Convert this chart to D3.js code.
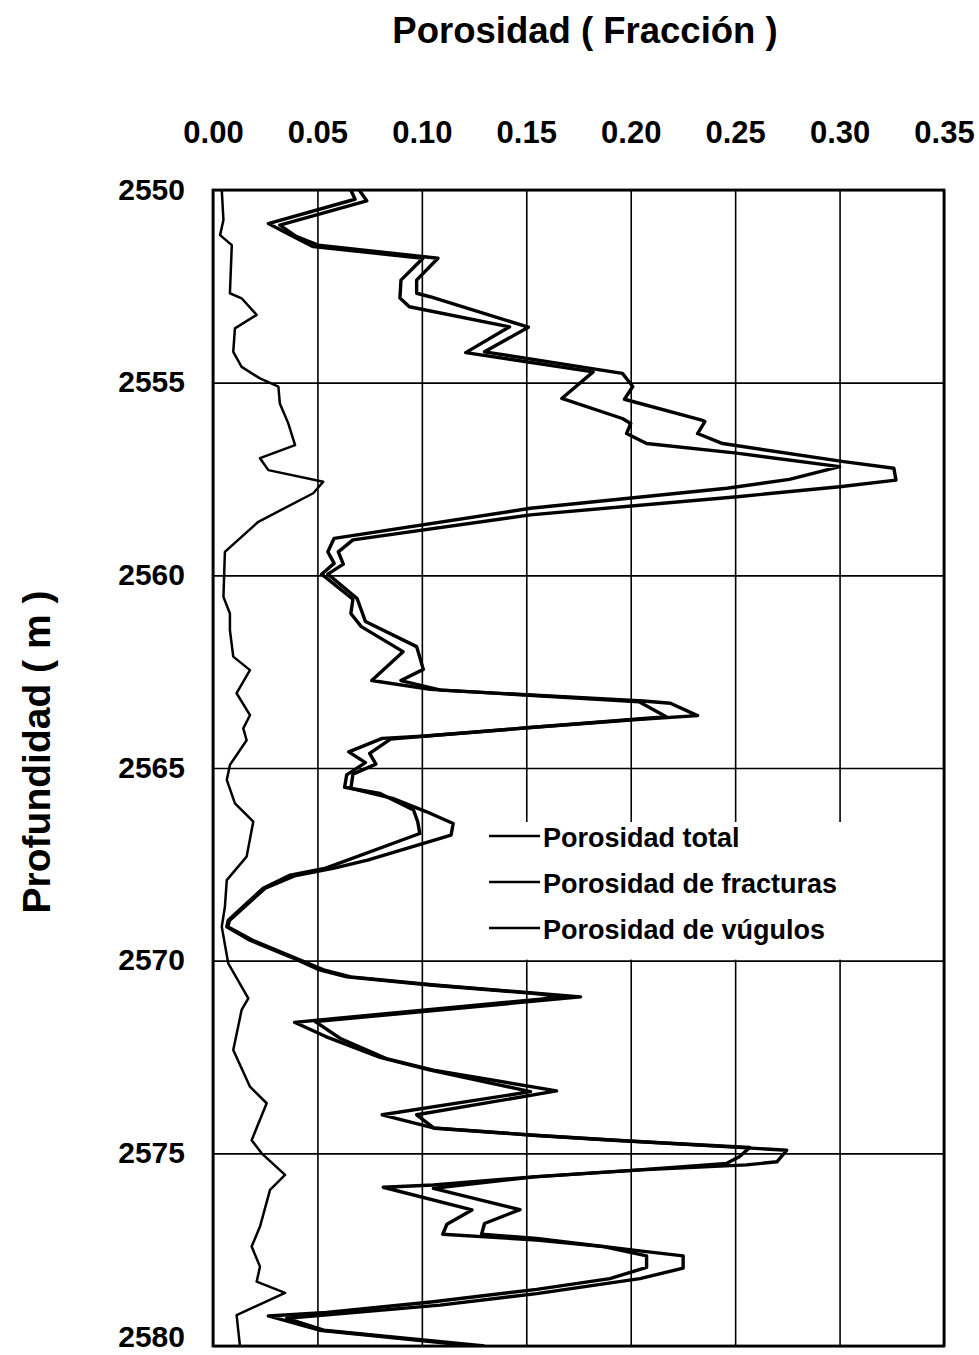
<!DOCTYPE html>
<html>
<head>
<meta charset="utf-8">
<script src="https://cdn.jsdelivr.net/npm/d3@7/dist/d3.min.js"></script>
<style>
  html, body { margin: 0; padding: 0; background: #fff; }
  svg { display: block; }
  text { font-family: "Liberation Sans", Arial, sans-serif; font-weight: bold; fill: #000; }
</style>
</head>
<body>
<svg id="chart" width="979" height="1355"></svg>
<script>
// Axis ticks
const xTicks = [0, 0.05, 0.10, 0.15, 0.20, 0.25, 0.30, 0.35];
const yTicks = [2550, 2555, 2560, 2565, 2570, 2575, 2580];

// Porosidad total: profundidad (m) y valor (fracción)
const totalDepth = [2550.0, 2550.28, 2550.91, 2551.21, 2551.43, 2551.77, 2552.34, 2552.68, 2552.77, 2553.56,
  2554.2, 2554.76, 2555.1, 2555.43, 2555.97, 2556.01, 2556.32, 2556.58, 2557.05, 2557.22,
  2557.53, 2557.7, 2557.96, 2558.43, 2559.08, 2559.39, 2559.71, 2559.97, 2560.6, 2561.2,
  2561.85, 2562.44, 2562.73, 2562.98, 2563.26, 2563.32, 2563.64, 2563.74, 2563.95, 2564.17,
  2564.25, 2564.62, 2564.9, 2565.16, 2565.53, 2565.79, 2566.13, 2566.44, 2566.74, 2567.39,
  2567.6, 2567.8, 2568.12, 2568.95, 2569.12, 2569.47, 2569.9, 2570.24, 2570.42, 2570.63,
  2570.85, 2570.94, 2571.58, 2572.02, 2572.54, 2572.84, 2573.38, 2574.0, 2574.35, 2574.53,
  2574.66, 2574.92, 2575.22, 2575.3, 2575.43, 2575.61, 2575.91, 2576.46, 2576.82, 2577.1,
  2577.21, 2577.53, 2577.66, 2577.98, 2578.25, 2578.64, 2578.94, 2579.28, 2579.59, 2580.0];
const totalValue = [0.070, 0.0736, 0.032, 0.040, 0.0504, 0.1077, 0.0975, 0.0975, 0.1039, 0.151,
  0.130, 0.196, 0.201, 0.197, 0.234, 0.2355, 0.232, 0.244, 0.302, 0.326,
  0.327, 0.300, 0.251, 0.152, 0.067, 0.060, 0.0624, 0.055, 0.069, 0.073,
  0.0975, 0.1007, 0.090, 0.109, 0.206, 0.219, 0.232, 0.203, 0.152, 0.102,
  0.085, 0.075, 0.078, 0.067, 0.066, 0.086, 0.102, 0.115, 0.114, 0.074,
  0.058, 0.039, 0.025, 0.008, 0.007, 0.019, 0.038, 0.053, 0.066, 0.106,
  0.156, 0.176, 0.049, 0.061, 0.083, 0.1055, 0.1645, 0.0975, 0.106, 0.154,
  0.193, 0.2747, 0.270, 0.2555, 0.205, 0.154, 0.1055, 0.147, 0.130, 0.1286,
  0.155, 0.2044, 0.2251, 0.2251, 0.2044, 0.155, 0.1087, 0.0353, 0.053, 0.130];

// Porosidad de fracturas
const fracDepth = [2550.0, 2550.24, 2550.87, 2551.17, 2551.47, 2551.77, 2552.34, 2552.8, 2553.03, 2553.55,
  2554.22, 2554.72, 2555.41, 2555.93, 2556.06, 2556.32, 2556.58, 2556.83, 2557.18, 2557.51,
  2557.74, 2558.26, 2559.04, 2559.39, 2559.69, 2559.97, 2560.62, 2560.99, 2561.33, 2561.98,
  2562.73, 2562.96, 2563.28, 2563.67, 2563.95, 2564.17, 2564.23, 2564.58, 2564.86, 2565.18,
  2565.5, 2565.66, 2566.09, 2566.39, 2566.7, 2567.6, 2567.78, 2568.12, 2568.95, 2569.12,
  2569.47, 2569.9, 2570.24, 2570.42, 2570.63, 2570.85, 2570.94, 2571.6, 2571.97, 2572.51,
  2572.84, 2573.4, 2574.0, 2574.34, 2574.53, 2574.66, 2574.85, 2575.09, 2575.26, 2575.43,
  2575.61, 2575.82, 2575.88, 2576.47, 2576.84, 2577.1, 2577.25, 2577.42, 2577.66, 2577.96,
  2578.25, 2578.53, 2578.85, 2579.13, 2579.22, 2579.59, 2580.0];
const fracValue = [0.066, 0.068, 0.0265, 0.037, 0.048, 0.1005, 0.090, 0.0895, 0.094, 0.142,
  0.121, 0.182, 0.167, 0.196, 0.200, 0.198, 0.2076, 0.2507, 0.300, 0.276,
  0.246, 0.152, 0.058, 0.055, 0.058, 0.052, 0.067, 0.066, 0.071, 0.091,
  0.076, 0.104, 0.204, 0.217, 0.152, 0.102, 0.081, 0.065, 0.073, 0.064,
  0.063, 0.080, 0.096, 0.098, 0.099, 0.054, 0.037, 0.024, 0.0073, 0.0066,
  0.0177, 0.037, 0.051, 0.064, 0.104, 0.153, 0.168, 0.039, 0.054, 0.080,
  0.104, 0.152, 0.081, 0.1055, 0.153, 0.1915, 0.257, 0.252, 0.246, 0.204,
  0.153, 0.1055, 0.0815, 0.124, 0.112, 0.110, 0.155, 0.187, 0.2076, 0.2076,
  0.190, 0.155, 0.1055, 0.0544, 0.0265, 0.051, 0.125];

// Porosidad de vúgulos
const vugDepth = [2550.0, 2550.78, 2551.17, 2551.43, 2552.68, 2552.81, 2553.24, 2553.59, 2554.2, 2554.59,
  2554.89, 2555.1, 2555.54, 2556.05, 2556.62, 2556.96, 2557.27, 2557.57, 2557.87, 2558.61,
  2559.39, 2560.56, 2560.99, 2561.42, 2562.11, 2562.46, 2563.06, 2563.63, 2563.97, 2564.28,
  2564.92, 2565.31, 2565.92, 2566.39, 2567.3, 2567.91, 2568.6, 2569.12, 2570.07, 2570.98,
  2571.28, 2572.32, 2573.27, 2573.7, 2574.66, 2575.0, 2575.56, 2575.95, 2576.9, 2577.42,
  2577.94, 2578.33, 2578.62, 2579.2, 2580.0];
const vugValue = [0.0042, 0.005, 0.0034, 0.009, 0.0081, 0.0137, 0.0209, 0.0105, 0.0097, 0.0137,
  0.0225, 0.0313, 0.032, 0.036, 0.0393, 0.0225, 0.0265, 0.0528, 0.048, 0.0217,
  0.0057, 0.005, 0.0081, 0.0081, 0.0097, 0.0177, 0.0113, 0.0177, 0.0145, 0.0161,
  0.0081, 0.0066, 0.0105, 0.0193, 0.0161, 0.0066, 0.0057, 0.0042, 0.0073, 0.0169,
  0.0137, 0.0097, 0.0177, 0.0257, 0.0185, 0.0233, 0.0345, 0.0273, 0.0225, 0.0185,
  0.0225, 0.0209, 0.0345, 0.0113, 0.0129];

const legendLabels = ["Porosidad total", "Porosidad de fracturas", "Porosidad de vúgulos"];

const svg = d3.select("#chart");
const plotLeft = 213, plotRight = 944, plotTop = 190, plotBottom = 1346;

const x = d3.scaleLinear().domain([0, 0.35]).range([plotLeft, plotRight]);
const y = d3.scaleLinear().domain([2550, 2580]).range([plotTop, plotBottom]);

// Grid lines
svg.append("g")
  .attr("transform", `translate(0,${plotTop})`)
  .call(d3.axisTop(x).tickValues(xTicks).tickSize(-(plotBottom - plotTop)).tickFormat(""))
  .call(g => g.select(".domain").remove())
  .call(g => g.selectAll("line").attr("stroke", "#000").attr("stroke-width", 1.6));

svg.append("g")
  .attr("transform", `translate(${plotLeft},0)`)
  .call(d3.axisLeft(y).tickValues(yTicks).tickSize(-(plotRight - plotLeft)).tickFormat(""))
  .call(g => g.select(".domain").remove())
  .call(g => g.selectAll("line").attr("stroke", "#000").attr("stroke-width", 1.6));

// Legend background hides the grid behind it
svg.append("rect")
  .attr("x", 470).attr("y", 822)
  .attr("width", plotRight - 470 - 2).attr("height", y(2570) - 822 - 1)
  .attr("fill", "#fff");

// Tick labels
svg.append("g")
  .attr("transform", `translate(0,${plotTop})`)
  .call(d3.axisTop(x).tickValues(xTicks).tickSize(0).tickPadding(47).tickFormat(d3.format(".2f")))
  .call(g => g.select(".domain").remove())
  .call(g => g.selectAll("text")
    .style("font-family", '"Liberation Sans", Arial, sans-serif')
    .style("font-weight", "bold").style("font-size", "31px").attr("fill", "#000"));

svg.append("g")
  .attr("transform", `translate(${plotLeft},0)`)
  .call(d3.axisLeft(y).tickValues(yTicks).tickSize(0).tickPadding(28).tickFormat(d3.format("d")))
  .call(g => g.select(".domain").remove())
  .call(g => g.selectAll("text")
    .style("font-family", '"Liberation Sans", Arial, sans-serif')
    .style("font-weight", "bold").style("font-size", "30px").attr("fill", "#000")
    .attr("dy", d => d === 2580 ? "0em" : "0.3em"));

// Plot frame
svg.append("rect")
  .attr("x", plotLeft).attr("y", plotTop)
  .attr("width", plotRight - plotLeft).attr("height", plotBottom - plotTop)
  .attr("fill", "none").attr("stroke", "#000").attr("stroke-width", 2.8);

// Curves
const line = d3.line().x(d => x(d[1])).y(d => y(d[0]));
svg.append("clipPath").attr("id", "plot")
  .append("rect").attr("x", plotLeft).attr("y", plotTop)
  .attr("width", plotRight - plotLeft).attr("height", plotBottom - plotTop);

const curves = [
  { depth: totalDepth, value: totalValue, width: 3.4 },
  { depth: fracDepth, value: fracValue, width: 3.4 },
  { depth: vugDepth, value: vugValue, width: 2.5 }
];
curves.forEach(c => {
  svg.append("path")
    .datum(d3.zip(c.depth, c.value))
    .attr("clip-path", "url(#plot)")
    .attr("d", line)
    .attr("fill", "none")
    .attr("stroke", "#000")
    .attr("stroke-width", c.width)
    .attr("stroke-linejoin", "round");
});

// Legend
const legend = svg.append("g");
legendLabels.forEach((label, i) => {
  const ly = 847 + i * 46;
  legend.append("line")
    .attr("x1", 489).attr("x2", 540)
    .attr("y1", ly - 11).attr("y2", ly - 11)
    .attr("stroke", "#000").attr("stroke-width", 2.6);
  legend.append("text")
    .attr("x", 543).attr("y", ly)
    .style("font-size", "27px")
    .text(label);
});

// Titles
svg.append("text")
  .attr("x", 585).attr("y", 43)
  .attr("text-anchor", "middle")
  .style("font-size", "36.5px")
  .text("Porosidad ( Fracción )");

svg.append("text")
  .attr("transform", "translate(50,752) rotate(-90)")
  .attr("text-anchor", "middle")
  .style("font-size", "39px")
  .text("Profundidad ( m )");
</script>
</body>
</html>
